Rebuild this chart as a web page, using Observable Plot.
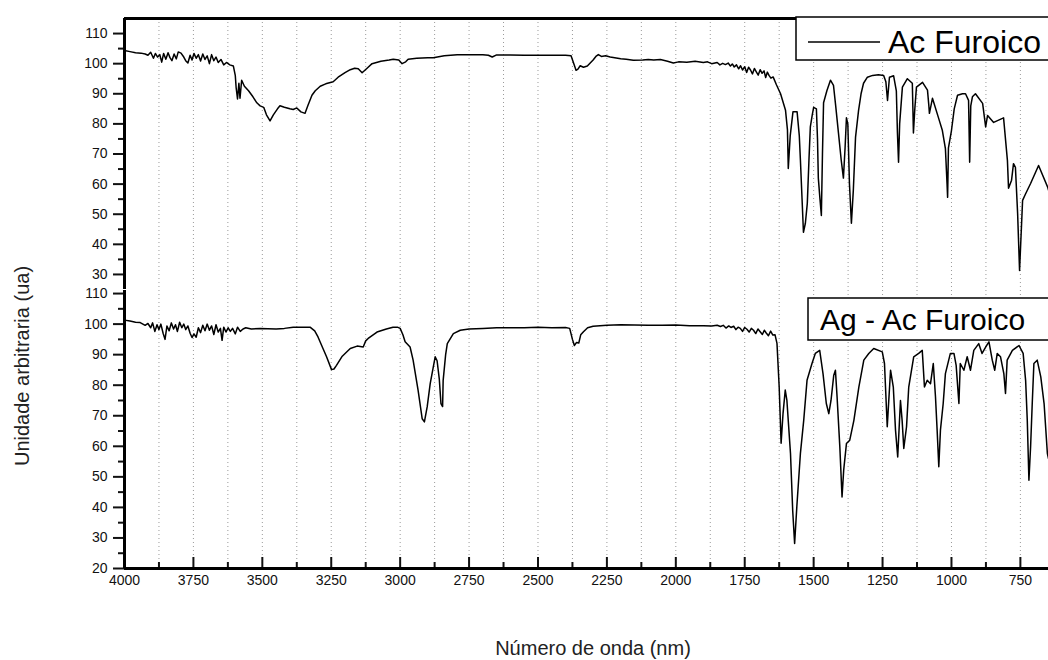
<!DOCTYPE html>
<html>
<head>
<meta charset="utf-8">
<script src="https://cdn.jsdelivr.net/npm/d3@7"></script>
<script src="https://cdn.jsdelivr.net/npm/@observablehq/plot@0.6"></script>
<style>
  html, body { margin: 0; padding: 0; background: #fff; }
  #chart { position: relative; width: 1048px; height: 660px; overflow: hidden; font-family: "Liberation Sans", Arial, sans-serif; }
  #chart svg { position: absolute; left: 0; top: 0; }
</style>
</head>
<body>
<div id="chart"></div>
<script>
// ---------- data ----------
const seriesNames = ["Ac Furoico", "Ag - Ac Furoico"];

const acWavenumber = [4000,3980,3960,3940,3925,3915,3905,3895,3888,3880,3872,3865,3858,3850,3842,3835,3828,3820,3812,3805,3795,3785,3778,3770,3762,3755,3748,3740,3732,3724,3716,3708,3700,3692,3684,3676,3668,3660,3650,3640,3630,3618,3605,3598,3595,3590,3585,3581,3575,3565,3550,3534,3520,3508,3495,3485,3472,3460,3445,3436,3420,3400,3388,3375,3360,3345,3335,3320,3308,3290,3270,3243,3225,3200,3181,3165,3152,3138,3120,3102,3070,3040,3025,3005,2993,2980,2971,2940,2900,2880,2840,2793,2750,2700,2680,2666,2650,2600,2550,2500,2450,2400,2380,2370,2362,2355,2347,2335,2321,2300,2290,2281,2270,2255,2238,2200,2180,2154,2120,2100,2080,2056,2030,2009,1990,1960,1930,1900,1885,1870,1850,1840,1830,1820,1810,1802,1795,1788,1780,1772,1765,1758,1750,1743,1736,1729,1722,1715,1708,1701,1694,1687,1680,1674,1668,1662,1655,1647,1635,1620,1602,1595,1592,1585,1575,1560,1552,1548,1542,1537,1530,1523,1517,1512,1505,1500,1490,1486,1483,1477,1472,1468,1464,1452,1439,1428,1420,1410,1400,1392,1386,1381,1376,1370,1363,1356,1348,1337,1328,1319,1305,1286,1265,1246,1238,1232,1225,1210,1200,1196,1192,1188,1178,1160,1142,1138,1133,1127,1105,1087,1082,1080,1069,1047,1033,1022,1016,1014,1011,1000,990,978,960,949,938,934,930,924,913,887,876,869,847,811,797,793,782,775,768,760,753,742,731,713,684,651,648];
const acSignal = [104.4,104.0,103.6,103.5,103.2,102.8,103.8,101.8,103.4,102.2,103.0,100.5,103.4,101.5,103.6,102.0,101.0,103.2,101.6,103.9,103.5,102.2,101.0,100.2,102.8,101.2,103.4,101.8,103.0,100.9,103.2,101.4,102.6,100.0,103.0,101.0,102.2,100.4,101.4,99.6,100.4,99.6,99.2,96,92,88.3,93.5,88.5,94.5,92.5,91,89,87,86,85.5,83,81,83,85,86,85.5,85,84.8,85.3,84,83.5,86,89.5,91,92.5,93.3,94,95.5,97,98,98.5,98.3,97,98.5,100,100.8,101.2,101.5,101.2,100,100.6,101.5,101.8,102,102,102.6,103,103,103,102.8,102.2,102.9,102.9,102.8,102.8,102.8,102.8,102.6,100,97.8,98.2,99.3,98.8,99.2,101.2,102.4,103,102.4,102.6,102.2,101.6,101.5,101.1,101.2,101.4,101.2,101.4,100.8,100.2,100.6,100.5,100.8,100.4,100.6,100,100.4,99.6,100.1,99.7,100.2,99.2,99.9,98.9,99.6,98.3,99.3,97.9,99.0,97.1,98.8,97.9,96.6,98.4,97.3,96.2,98.0,96.8,97.6,95.4,97.2,96.1,95.2,95.6,93,90,84.5,78,65.2,76,84,84,76,68,55,44,47,53.6,68,79,83,85.5,85,75,62,55,49.6,70,87,91,94.5,92.8,86,77,68,62,72,82,80,60,47,58,75.6,84.5,90,93.5,95.5,96.1,96.3,96.1,94,87.8,95.5,96,91,77,67.3,80,92.2,95,93.5,77,85,92.2,93.8,91.2,86,83.5,88.5,82,77.8,71.8,60,55.6,72,77.8,85,89.5,90,90,87.8,67.3,86,89,90,86.8,79,82.8,80.5,82,67.8,58.6,61.3,66.8,65.6,50.2,31.3,54.6,56.8,60.2,66.2,59,58];

const agWavenumber = [4000,3980,3960,3943,3925,3915,3905,3898,3890,3882,3875,3868,3860,3853,3846,3838,3830,3822,3815,3808,3800,3792,3785,3778,3770,3762,3755,3748,3740,3732,3724,3716,3708,3700,3692,3684,3676,3668,3660,3652,3646,3640,3632,3624,3616,3608,3598,3590,3580,3570,3560,3540,3508,3480,3450,3420,3388,3350,3327,3310,3298,3280,3267,3249,3240,3231,3210,3181,3156,3134,3125,3116,3084,3050,3026,3010,3000,2990,2982,2964,2953,2935,2920,2912,2902,2891,2873,2866,2858,2852,2846,2844,2835,2829,2807,2782,2750,2700,2650,2600,2550,2500,2450,2400,2385,2375,2368,2360,2352,2345,2335,2320,2300,2250,2200,2150,2100,2050,2000,1950,1900,1870,1850,1838,1828,1818,1808,1800,1790,1782,1774,1766,1758,1750,1742,1734,1726,1718,1710,1702,1694,1686,1679,1672,1664,1656,1648,1640,1633,1625,1618,1611,1603,1597,1584,1576,1569,1561,1548,1536,1524,1506,1494,1478,1466,1454,1445,1437,1427,1421,1415,1405,1397,1391,1381,1369,1354,1336,1318,1300,1282,1251,1243,1233,1221,1211,1203,1195,1185,1179,1173,1163,1155,1137,1119,1106,1098,1088,1076,1066,1058,1052,1046,1040,1030,1022,1004,991,983,973,968,955,943,931,919,901,889,876,864,852,843,834,822,810,804,798,779,755,740,731,725,719,713,707,701,689,676,664,652,648];
const agSignal = [101.3,101.0,100.6,100.5,99.6,100.2,98.8,100.4,97.6,99.8,98.2,100.0,97.0,95.0,99.4,97.8,100.4,98.4,99.8,97.6,100.6,98.8,100.0,98.2,99.4,97.0,95.6,96.8,95.7,98.8,97.2,99.6,97.8,100.0,98.0,99.4,96.6,99.8,97.4,98.6,94.7,99.0,97.4,98.8,97.6,98.6,96.8,99.0,97.6,98.4,98.8,98.4,98.6,98.5,98.4,98.6,99.0,99.0,99.0,97.8,95.8,92,89.3,85.1,85.3,86.5,89.5,92,92.8,92.5,94.5,95.3,97.4,98.4,99,99,98.6,96.5,94.2,92.5,88.2,78.4,69,68,72.9,80.5,89.3,88,82,74,73,81.6,90,93.6,96.9,98,98.4,98.6,98.8,98.8,98.8,99,98.8,98.9,98.6,95,93,94,93.8,96.5,97.5,98.8,99.3,99.6,99.8,99.7,99.6,99.6,99.7,99.5,99.5,99.4,99.6,99.2,99.6,98.7,99.4,98.9,99.3,98.2,99.0,98.6,97.6,98.9,98.3,97.4,98.6,98.0,96.9,98.4,97.5,96.6,98.0,97.1,96.2,97.7,96.4,96.5,93.7,79.4,61,70.8,78.4,75,57.7,39,28.2,40.2,57.7,68.5,81.6,87.1,90.4,91.4,83.8,74,70.7,75,83.3,84.9,76.2,59.8,43.4,52.2,60.9,62,68.5,79.4,88.2,90.4,92,90.9,87.1,66.4,84.9,79.4,65.3,56.5,75,68.5,59.3,66.4,79.4,89.3,90.4,91.4,79.4,81.6,80.5,87.1,76.2,65.3,53.3,65.3,74,83.8,90.4,90.4,86.5,74,87.1,84.9,89.3,84.9,91.4,93.6,90.4,92.5,94.2,88.2,84.9,90.4,89.3,83.8,77.3,88.2,91.4,93,90.4,81.6,68.5,48.9,59.8,74,87.1,88.2,82.7,74,57.6,56];

const xMajorTicks = [4000,3750,3500,3250,3000,2750,2500,2250,2000,1750,1500,1250,1000,750];
const xMinorTicks = [3875,3625,3375,3125,2875,2625,2375,2125,1875,1625,1375,1125,875];
const xGrid = [3875,3750,3625,3500,3375,3250,3125,3000,2875,2750,2625,2500,2375,2250,2125,2000,1875,1750,1625,1500,1375,1250,1125,1000,875,750];
const yMajorTop = [30,40,50,60,70,80,90,100,110];
const yMinorTop = [35,45,55,65,75,85,95,105];
const yMajorBottom = [20,30,40,50,60,70,80,90,100,110];
const yMinorBottom = [25,35,45,55,65,75,85,95,105];
const xTitle = "Número de onda (nm)";
const yTitle = "Unidade arbitraria (ua)";

const acData = acWavenumber.map((w, i) => ({w, v: acSignal[i]}));
const agData = agWavenumber.map((w, i) => ({w, v: agSignal[i]}));

const font = "'Liberation Sans', Arial, sans-serif";
const xDomain = [4000, 648];
const fmt = d => String(d);

// ---------- bottom panel (full-height SVG) ----------
const bottomPlot = Plot.plot({
  width: 1048, height: 660,
  marginLeft: 124, marginRight: 0, marginTop: 290, marginBottom: 92,
  x: {domain: xDomain},
  y: {domain: [20, 111]},
  style: {background: "transparent", fontFamily: font, color: "#111", overflow: "visible"},
  marks: [
    Plot.ruleX(xGrid, {stroke: "#9a9a9a", strokeDasharray: "1,3", strokeWidth: 1}),
    Plot.line(agData, {x: "w", y: "v", stroke: "#000", strokeWidth: 1.5}),
    Plot.axisY({ticks: yMajorBottom, tickSize: 11, tickPadding: 6, fontSize: 14, tickFormat: fmt, label: null, strokeWidth: 2}),
    Plot.axisY({ticks: yMinorBottom, tickSize: 6, text: null, label: null, strokeWidth: 2}),
    Plot.axisX({ticks: xMajorTicks, tickSize: 0, tickPadding: 7, fontSize: 14, tickFormat: fmt, label: null}),
    Plot.axisX({ticks: xMajorTicks, tickSize: 11, dy: -11, text: null, label: null, strokeWidth: 2}),
    Plot.axisX({ticks: xMinorTicks, tickSize: 6, dy: -6, text: null, label: null, strokeWidth: 2}),
    Plot.ruleX([4000], {stroke: "#000", strokeWidth: 3}),
    Plot.ruleY([20], {stroke: "#000", strokeWidth: 3})
  ]
});

// ---------- top panel ----------
const topPlot = Plot.plot({
  width: 1048, height: 290,
  marginLeft: 124, marginRight: 0, marginTop: 18, marginBottom: 1,
  x: {domain: xDomain, axis: null},
  y: {domain: [25, 115]},
  style: {background: "transparent", fontFamily: font, color: "#111", overflow: "visible"},
  marks: [
    Plot.ruleX(xGrid, {stroke: "#9a9a9a", strokeDasharray: "1,3", strokeWidth: 1}),
    Plot.line(acData, {x: "w", y: "v", stroke: "#000", strokeWidth: 1.5}),
    Plot.axisY({ticks: yMajorTop, tickSize: 11, tickPadding: 6, fontSize: 14, tickFormat: fmt, label: null, strokeWidth: 2}),
    Plot.axisY({ticks: yMinorTop, tickSize: 6, text: null, label: null, strokeWidth: 2}),
    Plot.ruleX([4000], {stroke: "#000", strokeWidth: 3}),
    Plot.ruleY([115], {stroke: "#000", strokeWidth: 3})
  ]
});

const chart = document.getElementById("chart");
chart.appendChild(bottomPlot);
chart.appendChild(topPlot);

// legends
const tsvg = d3.select(topPlot);
tsvg.append("rect").attr("x", 796).attr("y", 17).attr("width", 270).attr("height", 43)
  .attr("fill", "#fff").attr("stroke", "#000").attr("stroke-width", 1.5);
tsvg.append("line").attr("x1", 808).attr("x2", 880).attr("y1", 42).attr("y2", 42)
  .attr("stroke", "#000").attr("stroke-width", 1.5);
tsvg.append("text").attr("x", 888).attr("y", 53).attr("text-anchor", "start").attr("font-size", 32)
  .attr("font-family", font).attr("fill", "#000").text(seriesNames[0]);

const bsvg = d3.select(bottomPlot);
bsvg.append("rect").attr("x", 808).attr("y", 298).attr("width", 260).attr("height", 42)
  .attr("fill", "#fff").attr("stroke", "#000").attr("stroke-width", 1.5);
bsvg.append("text").attr("x", 820).attr("y", 330).attr("text-anchor", "start").attr("font-size", 30)
  .attr("font-family", font).attr("fill", "#000").text(seriesNames[1]);

// axis titles
bsvg.append("text").attr("x", 593).attr("y", 655).attr("text-anchor", "middle")
  .attr("font-size", 20).attr("font-family", font).attr("fill", "#222").text(xTitle);
bsvg.append("text").attr("transform", "translate(29,366) rotate(-90)").attr("text-anchor", "middle")
  .attr("font-size", 20).attr("font-family", font).attr("fill", "#222").text(yTitle);
</script>
</body>
</html>
